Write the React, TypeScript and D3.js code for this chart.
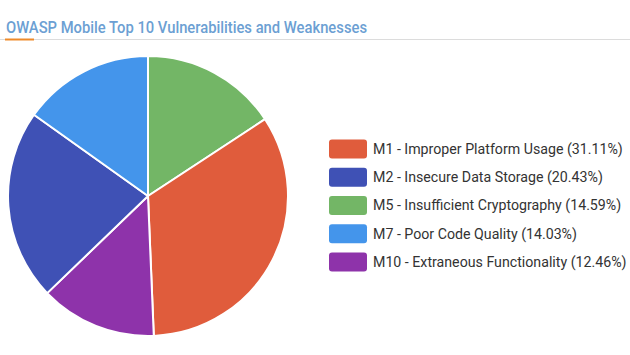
import React from "react";
import * as d3 from "d3";

const labels = [
  "M5 - Insufficient Cryptography",
  "M1 - Improper Platform Usage",
  "M10 - Extraneous Functionality",
  "M2 - Insecure Data Storage",
  "M7 - Poor Code Quality",
];
const values = [14.59, 31.11, 12.46, 20.43, 14.03];
const colors = ["#73B666", "#E05C3C", "#8E33AA", "#3F51B5", "#4495EB"];
const legendOrder = [1, 3, 0, 4, 2];
const title = "OWASP Mobile Top 10 Vulnerabilities and Weaknesses";

export default function App() {
  const W = 630, H = 355;
  const cx = 148, cy = 196, r = 140;
  const pie = d3.pie<number>().sort(null).value((d) => d);
  const arcs = pie(values);
  const arc = d3.arc<d3.PieArcDatum<number>>().innerRadius(0).outerRadius(r);
  const ly = d3.scaleLinear().domain([0, 4]).range([149, 262]);
  return (
    <svg width={W} height={H} style={{ position: "absolute", left: 0, top: 0, background: "#fff" }}
      fontFamily="Roboto, 'Open Sans', sans-serif">
      <text x={6} y={32.5} fontSize={16} fontWeight={500} fill="#6C9FD3"
        textLength={361} lengthAdjust="spacingAndGlyphs">{title}</text>
      <line x1={0} x2={W} y1={39.5} y2={39.5} stroke="#dcdcdc" strokeWidth={1} />
      <line x1={5} x2={34} y1={39.5} y2={39.5} stroke="#EE8A2A" strokeWidth={2} />
      <g transform={`translate(${cx},${cy})`}>
        {arcs.map((a, i) => (
          <path key={i} d={arc(a) || ""} fill={colors[i]} stroke="#fff" strokeWidth={2} strokeLinejoin="round" />
        ))}
      </g>
      {legendOrder.map((idx, k) => (
        <g key={idx} transform={`translate(0,${ly(k)})`}>
          <rect x={329} y={-9.5} width={38} height={19} rx={3} fill={colors[idx]} />
          <text x={373} y={0} dy="0.35em" fontSize={14.2} fill="#333">
            {`${labels[idx]} (${values[idx].toFixed(2)}%)`}
          </text>
        </g>
      ))}
    </svg>
  );
}
